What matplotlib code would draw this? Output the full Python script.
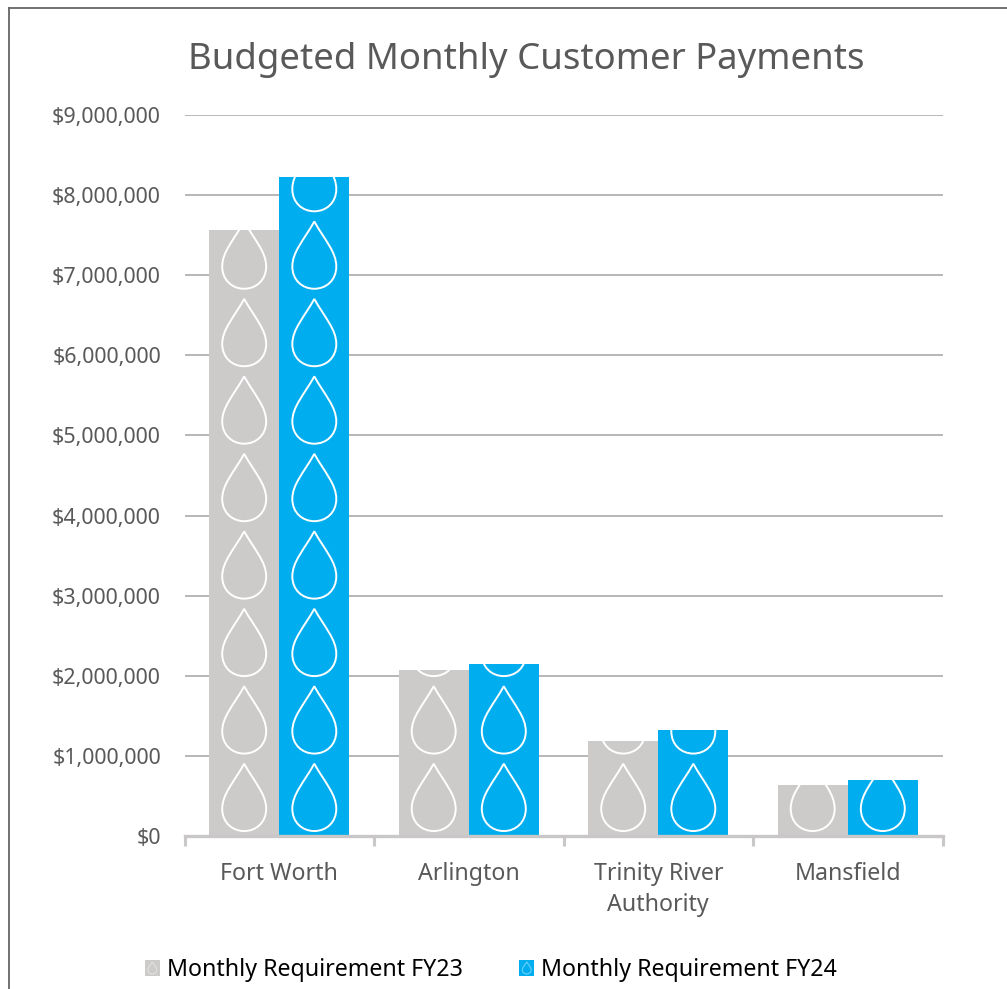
import matplotlib
matplotlib.use('Agg')
import matplotlib.pyplot as plt
from matplotlib.lines import Line2D
from matplotlib.patches import Patch, PathPatch, Rectangle
from matplotlib.path import Path
from matplotlib.legend_handler import HandlerPatch

# --- Data ---
categories = ['Fort Worth', 'Arlington', 'Trinity River\nAuthority', 'Mansfield']
fy23 = [7570000, 2070000, 1190000, 640000]
fy24 = [8220000, 2150000, 1320000, 700000]
series_names = ['Monthly Requirement FY23', 'Monthly Requirement FY24']
y_ticks = [0, 1000000, 2000000, 3000000, 4000000, 5000000, 6000000, 7000000, 8000000, 9000000]

GREY = '#cdcaca'
BLUE = '#00aeef'
TEXT = '#595959'
W, H = 1007, 989

plt.rcParams['font.family'] = ['Noto Sans', 'DejaVu Sans']

# Teardrop outline, unit box: x -1..1, y 0..1 (tip on top)
DROP = Path(
    [(0, 1), (-0.48, 0.72), (-1, 0.55), (-1, 0.33),
     (-1, 0.13), (-0.55, 0), (0, 0),
     (0.55, 0), (1, 0.13), (1, 0.33),
     (1, 0.55), (0.48, 0.72), (0, 1), (0, 1)],
    [Path.MOVETO, Path.CURVE4, Path.CURVE4, Path.CURVE4,
     Path.CURVE4, Path.CURVE4, Path.CURVE4,
     Path.CURVE4, Path.CURVE4, Path.CURVE4,
     Path.CURVE4, Path.CURVE4, Path.CURVE4, Path.CLOSEPOLY])


def drop_path(cx, bottom, half_w, height):
    return Path([(cx + x * half_w, bottom + y * height) for x, y in DROP.vertices], DROP.codes)


fig = plt.figure(figsize=(W / 100, H / 100), dpi=100)
ax = fig.add_axes([184.5 / W, 1 - 836 / H, (943 - 185) / W, (836 - 115) / H])

bar_w = 0.37
x_pos = [i + 0.5 for i in range(len(categories))]
tile = 967000      # one repeat of the picture fill
drop_h = 840000
drop_gap = 62000
half_w = 0.116

for offset, values, color in [(-bar_w / 2, fy23, GREY), (bar_w / 2, fy24, BLUE)]:
    bars = ax.bar([x + offset for x in x_pos], values, width=bar_w, color=color, zorder=2)
    for bar, value in zip(bars, values):
        n = 0
        while n * tile < value:
            p = PathPatch(drop_path(bar.get_x() + bar_w / 2, n * tile + drop_gap, half_w, drop_h),
                          facecolor='none', edgecolor='white', lw=1.4, zorder=3)
            ax.add_patch(p)
            p.set_clip_path(bar)
            n += 1

ax.set_xlim(0, 4)
ax.set_ylim(0, 9000000)
ax.set_yticks(y_ticks)
ax.set_yticklabels(['${:,}'.format(v) for v in y_ticks], color=TEXT, fontsize=15.4)
ax.set_xticks(range(5))
ax.set_xticklabels([])
ax.set_xticks(x_pos, minor=True)
ax.set_xticklabels(categories, minor=True, color=TEXT, fontsize=16.7, linespacing=1.4)
ax.tick_params(axis='y', length=0, pad=17)
ax.tick_params(axis='x', which='major', length=7, width=2.2, color='#c9c7c7')
ax.tick_params(axis='x', which='minor', length=0, pad=18.5)
ax.grid(axis='y', color='#a3a3a3', lw=1.1, zorder=1)
ax.set_axisbelow(True)
for s in ['top', 'right', 'left']:
    ax.spines[s].set_visible(False)
ax.spines['bottom'].set_color('#c9c7c7')
ax.spines['bottom'].set_linewidth(2.4)
ax.spines['bottom'].set_zorder(5)

fig.suptitle('Budgeted Monthly Customer Payments', x=526 / W, y=1 - 60 / H, va='center',
             color=TEXT, fontsize=26.3)


# Legend swatch: small square with a faint drop
class DropHandler(HandlerPatch):
    def __init__(self, edge):
        super().__init__()
        self.edge = edge

    def create_artists(self, legend, orig_handle, xdescent, ydescent, width, height, fontsize, trans):
        side = 11
        x0 = -xdescent + (width - side) / 2
        y0 = -ydescent + (height - side) / 2
        sq = Rectangle((x0, y0), side, side, facecolor=orig_handle.get_facecolor(),
                       edgecolor='none', transform=trans)
        dr = PathPatch(drop_path(x0 + side / 2, y0 + 1.2, 3.2, side - 2.4), facecolor='none',
                       edgecolor=self.edge, lw=0.8, transform=trans)
        return [sq, dr]


h1 = Patch(facecolor=GREY)
h2 = Patch(facecolor=BLUE)
fig.legend([h1, h2], series_names, loc='center', bbox_to_anchor=(490 / W, 1 - 970 / H), ncols=2,
           frameon=False, fontsize=16.7, labelcolor='black', handlelength=0.8, handleheight=0.8,
           handletextpad=0.22, columnspacing=2.37, borderpad=0, borderaxespad=0,
           handler_map={h1: DropHandler('#e2e0e0'), h2: DropHandler('#6dcff6')})

# Outer frame, only the top and left edges are inside the crop
fig.add_artist(Line2D([9 / W, 9 / W], [0, 1 - 8 / H], color='#666666', lw=1.3))
fig.add_artist(Line2D([9 / W, 1], [1 - 8 / H, 1 - 8 / H], color='#666666', lw=1.3))

fig.savefig('out.png', dpi=100)
